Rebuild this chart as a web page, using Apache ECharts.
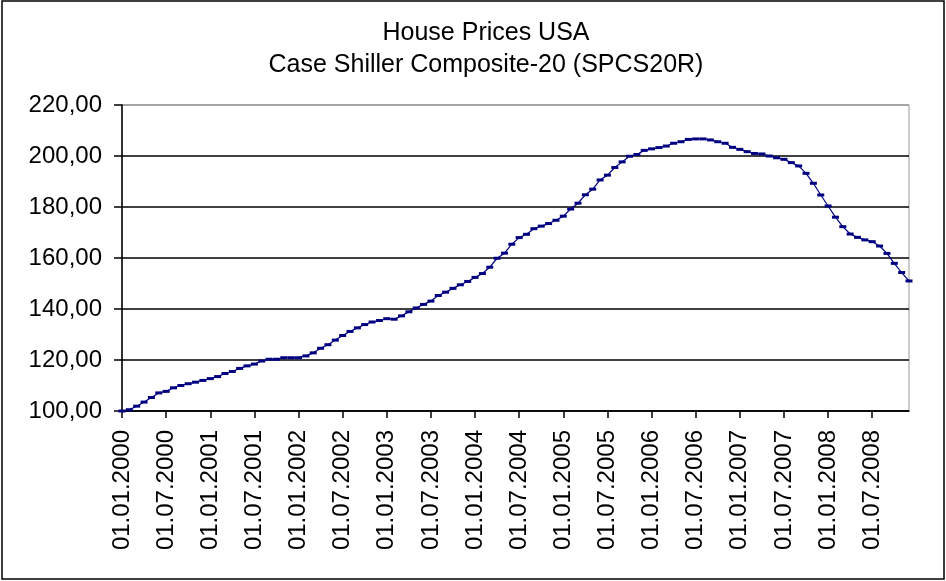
<!DOCTYPE html>
<html>
<head>
<meta charset="utf-8">
<script src="https://cdn.jsdelivr.net/npm/echarts@6/dist/echarts.min.js"></script>
<style>
  html, body { margin: 0; padding: 0; background: #fff; }
  #main { width: 946px; height: 581px; }
</style>
</head>
<body>
<div id="main"></div>
<script>
// Case Shiller Composite-20, monthly 01.2000 - 12.2008
var years = [2000, 2001, 2002, 2003, 2004, 2005, 2006, 2007, 2008];
var months = ['01', '02', '03', '04', '05', '06', '07', '08', '09', '10', '11', '12'];

var prices2000 = [100.0, 100.5, 101.9, 103.5, 105.3, 107.1, 107.7, 109.1, 110.0, 110.7, 111.3, 112.0];
var prices2001 = [112.7, 113.5, 114.7, 115.5, 116.7, 117.7, 118.4, 119.6, 120.3, 120.3, 120.9, 120.9];
var prices2002 = [120.9, 121.6, 122.8, 124.6, 126.0, 127.8, 129.6, 131.2, 132.6, 133.9, 134.9, 135.5];
var prices2003 = [136.2, 136.0, 137.3, 138.9, 140.4, 141.8, 143.1, 145.3, 146.6, 148.1, 149.5, 150.8];
var prices2004 = [152.4, 153.9, 156.4, 159.9, 161.9, 165.4, 168.0, 169.3, 171.5, 172.5, 173.5, 174.8];
var prices2005 = [176.4, 179.2, 181.5, 184.8, 187.0, 190.6, 192.5, 195.5, 197.7, 199.9, 200.6, 202.2];
var prices2006 = [202.8, 203.3, 203.9, 205.0, 205.6, 206.5, 206.7, 206.7, 206.3, 205.6, 205.0, 203.4];
var prices2007 = [202.6, 201.7, 201.0, 200.8, 200.0, 199.3, 198.7, 197.4, 196.1, 193.2, 189.3, 184.7];
var prices2008 = [180.4, 176.0, 172.3, 169.4, 168.1, 167.1, 166.4, 164.7, 161.8, 157.9, 154.3, 151.0];

var prices = [].concat(prices2000, prices2001, prices2002, prices2003, prices2004,
    prices2005, prices2006, prices2007, prices2008);

// Kategorien: 01.MM.YYYY
var categories = [];
years.forEach(function (y) {
    months.forEach(function (m) {
        categories.push('01.' + m + '.' + y);
    });
});

var main = document.getElementById('main');
var chart = echarts.init(main);

var font = 'Liberation Sans, Arial, sans-serif';

var option = {
    backgroundColor: '#fff',
    animation: false,
    title: {
        text: 'House Prices USA\nCase Shiller Composite-20 (SPCS20R)',
        left: 486,
        top: 17,
        padding: 0,
        textAlign: 'center',
        textStyle: {
            fontFamily: font,
            fontSize: 25,
            fontWeight: 'normal',
            color: '#000',
            lineHeight: 32
        }
    },
    grid: {
        left: 122,
        right: 37,
        top: 105,
        bottom: 170,
        show: true,
        borderColor: '#999',
        borderWidth: 1
    },
    xAxis: {
        type: 'category',
        data: categories,
        boundaryGap: false,
        axisLine: { lineStyle: { color: '#000', width: 1.5 } },
        axisTick: { interval: 5, length: 7, lineStyle: { color: '#000', width: 1.5 } },
        axisLabel: {
            interval: 5,
            rotate: 90,
            margin: 19,
            fontFamily: font,
            fontSize: 24,
            color: '#000'
        },
        splitLine: { show: false }
    },
    yAxis: {
        type: 'value',
        min: 100,
        max: 220,
        interval: 20,
        axisLine: { show: true, lineStyle: { color: '#000', width: 1.5 } },
        axisTick: { show: true, length: 8, lineStyle: { color: '#000', width: 1.5 } },
        axisLabel: {
            margin: 20,
            fontFamily: font,
            fontSize: 24,
            color: '#000',
            formatter: function (v) {
                return v.toFixed(2).replace('.', ',');
            }
        },
        splitLine: {
            lineStyle: {
                // oberste Linie ist der graue Rahmen
                color: ['#000', '#000', '#000', '#000', '#000', '#000', '#999'],
                width: 1.5
            }
        }
    },
    series: [
        {
            type: 'line',
            data: prices,
            symbol: 'rect',
            symbolSize: [7, 3],
            showSymbol: true,
            itemStyle: { color: '#000080' },
            lineStyle: { color: '#000080', width: 1.2 }
        }
    ],
    graphic: [
        {
            // Rahmen um das Diagramm
            type: 'rect',
            shape: { x: 2, y: 1, width: 942, height: 578 },
            style: { fill: null, stroke: '#000', lineWidth: 1.5 },
            silent: true
        }
    ]
};

chart.setOption(option);
</script>
</body>
</html>
